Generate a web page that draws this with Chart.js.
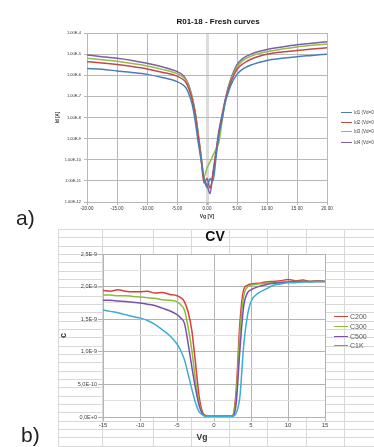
<!DOCTYPE html>
<html>
<head>
<meta charset="utf-8">
<script src="https://cdn.jsdelivr.net/npm/chart.js@4.4.1/dist/chart.umd.min.js"></script>
<style>
body { margin:0; width:374px; height:447px; overflow:hidden; position:relative; background:#fff; font-family:'Liberation Sans', Arial, sans-serif; }
#hoja { position:absolute; left:58px; top:229px; width:316px; height:218px;
  background-image: repeating-linear-gradient(to bottom, #d8d8d8 0px, #d8d8d8 1px, transparent 1px, transparent 8.33px); }
.vlinea { position:absolute; top:0; width:1px; height:218px; background:#d8d8d8; }
.caja { position:absolute; left:0; }
.letra { position:absolute; font-size:21px; color:#222; line-height:1; }
.titulo { position:absolute; font-weight:bold; color:#111; white-space:nowrap; transform:translate(-50%,-50%); }
.item { position:absolute; white-space:nowrap; line-height:1; }
.item span.raya { display:inline-block; vertical-align:middle; }
</style>
</head>
<body>
<div id="hoja"></div>
<div class="caja" style="top:0"><canvas id="graficoA" width="374" height="225"></canvas></div>
<div class="caja" style="top:225px"><canvas id="graficoB" width="374" height="222"></canvas></div>
<div class="letra" style="left:16px; top:207px">a)</div>
<div class="letra" style="left:21px; top:424px">b)</div>
<div class="titulo" style="left:218px; top:21px; font-size:8px">R01-18 - Fresh curves</div>
<div class="titulo" style="left:215px; top:236px; font-size:14px">CV</div>
<div class="titulo" style="left:202px; top:437px; font-size:8.5px; color:#333">Vg</div>
<div id="leyendaA"></div>
<div id="leyendaB"></div>

<script>
// ---- Gráfico a) Id vs Vg (escala logarítmica) ----
const vgA = [-20, -17.5, -15, -12.5, -10, -7.5, -5, -4, -3.5, -3, -2.5, -2, -1.5, -1, -0.5, 0, 0.5, 1, 1.5, 2, 2.5, 3, 3.5, 4, 5, 6, 7.5, 10, 12.5, 15, 17.5, 20];
const id1 = [2.1e-6, 1.9e-6, 1.6e-6, 1.35e-6, 1.1e-6, 7.9e-7, 5.0e-7, 3.5e-7, 2.5e-7, 1.26e-7, 4.5e-8, 7.9e-9, 7.9e-10, 1.0e-10, 1.26e-11, 5.0e-12, 1.26e-11, 1.0e-11, 1.26e-10, 1.6e-9, 7.9e-9, 4.5e-8, 1.4e-7, 3.5e-7, 1.1e-6, 2.0e-6, 3.2e-6, 5.0e-6, 6.3e-6, 7.6e-6, 8.7e-6, 1.0e-5];
const id2 = [4.4e-6, 3.8e-6, 3.2e-6, 2.6e-6, 2.0e-6, 1.4e-6, 9.1e-7, 6.3e-7, 4.5e-7, 2.2e-7, 7.9e-8, 1.6e-8, 1.6e-9, 1.3e-10, 7.9e-12, 1.3e-11, 4.5e-12, 2.0e-11, 2.0e-10, 2.0e-9, 1.0e-8, 5.6e-8, 1.8e-7, 5.0e-7, 1.9e-6, 3.5e-6, 6.0e-6, 9.8e-6, 1.26e-5, 1.5e-5, 1.74e-5, 2.0e-5];
const id3 = [6.3e-6, 5.4e-6, 4.6e-6, 3.6e-6, 2.75e-6, 1.9e-6, 1.2e-6, 8.3e-7, 5.6e-7, 2.8e-7, 1.0e-7, 2.0e-8, 2.0e-9, 1.6e-10, 1.6e-11, 4.0e-11, 7.9e-11, 1.6e-10, 3.2e-10, 7.1e-10, 6.3e-9, 5.0e-8, 2.0e-7, 6.0e-7, 2.5e-6, 5.0e-6, 8.3e-6, 1.3e-5, 1.74e-5, 2.2e-5, 2.6e-5, 3.0e-5];
const id4 = [9.1e-6, 7.6e-6, 6.3e-6, 5.0e-6, 3.7e-6, 2.5e-6, 1.5e-6, 1.0e-6, 6.3e-7, 3.2e-7, 1.0e-7, 2.0e-8, 2.0e-9, 1.6e-10, 1.3e-11, 6.3e-12, 2.5e-12, 2.5e-11, 2.5e-10, 2.5e-9, 1.3e-8, 6.3e-8, 2.5e-7, 7.1e-7, 3.2e-6, 6.3e-6, 1.05e-5, 1.66e-5, 2.2e-5, 2.8e-5, 3.3e-5, 3.9e-5];
const nombresA = ['Id1 (Vd=0.1V)', 'Id2 (Vd=0.2V)', 'Id3 (Vd=0.3V)', 'Id4 (Vd=0.4V)'];
const coloresA = ['#4A7EBB', '#BE4B48', '#98B954', '#7D60A0'];
const decadasA = [1e-12, 1e-11, 1e-10, 1e-9, 1e-8, 1e-7, 1e-6, 1e-5, 1e-4];

// ---- Gráfico b) CV (valores en nF) ----
const vgB = [-15, -14, -13, -12, -11, -10, -9, -8, -7, -6, -5, -4.5, -4, -3.5, -3, -2.5, -2, -1.5, -1, 0, 1, 2, 2.5, 3, 3.5, 4, 4.5, 5, 6, 7, 8, 9, 10, 11, 12, 13, 14, 15];
const c200 = [1.94, 1.93, 1.95, 1.93, 1.92, 1.92, 1.93, 1.90, 1.91, 1.88, 1.86, 1.83, 1.77, 1.61, 1.33, 0.83, 0.31, 0.06, 0.02, 0.01, 0.01, 0.01, 0.02, 0.41, 1.44, 1.95, 2.02, 2.04, 2.05, 2.07, 2.08, 2.09, 2.11, 2.09, 2.10, 2.08, 2.09, 2.08];
const c300 = [1.87, 1.87, 1.86, 1.86, 1.85, 1.84, 1.83, 1.82, 1.80, 1.79, 1.77, 1.72, 1.64, 1.38, 1.03, 0.57, 0.21, 0.04, 0.01, 0.01, 0.01, 0.01, 0.02, 0.31, 1.29, 1.85, 1.99, 2.02, 2.04, 2.05, 2.06, 2.07, 2.07, 2.08, 2.08, 2.08, 2.08, 2.08];
const c500 = [1.79, 1.79, 1.78, 1.77, 1.76, 1.75, 1.73, 1.71, 1.67, 1.63, 1.57, 1.52, 1.44, 1.13, 0.77, 0.44, 0.17, 0.04, 0.01, 0.01, 0.01, 0.01, 0.01, 0.21, 1.03, 1.69, 1.90, 1.95, 2.00, 2.03, 2.05, 2.06, 2.07, 2.07, 2.08, 2.08, 2.08, 2.08];
const c1k = [1.64, 1.62, 1.60, 1.57, 1.54, 1.52, 1.48, 1.42, 1.34, 1.25, 1.12, 1.02, 0.88, 0.66, 0.43, 0.22, 0.08, 0.03, 0.01, 0.01, 0.01, 0.01, 0.01, 0.06, 0.31, 1.08, 1.54, 1.77, 1.90, 1.96, 2.02, 2.04, 2.06, 2.06, 2.07, 2.07, 2.08, 2.08];
const nombresB = ['C200', 'C300', 'C500', 'C1K'];
const coloresB = ['#D6413B', '#8CBB3C', '#7C4FAA', '#3AADD6'];

// líneas verticales de la hoja de cálculo de fondo
const columnasHoja = [0, 44, 95, 133, 171, 209, 248, 286];
columnasHoja.forEach(function (x) {
    const d = document.createElement('div');
    d.className = 'vlinea';
    d.style.left = x + 'px';
    document.getElementById('hoja').appendChild(d);
});

// leyendas
function crearLeyenda(idCont, nombres, colores, izq, tops, largo, tamLetra, colorTexto) {
    const cont = document.getElementById(idCont);
    nombres.forEach(function (nombre, i) {
        const it = document.createElement('div');
        it.className = 'item';
        it.style.left = izq + 'px';
        it.style.top = (tops[i] - tamLetra / 2) + 'px';
        it.style.fontSize = tamLetra + 'px';
        it.style.color = colorTexto;
        it.innerHTML = '<span class="raya" style="width:' + largo + 'px;height:1.5px;background:' + colores[i] + ';margin-right:2px"></span>' + nombre;
        cont.appendChild(it);
    });
}
crearLeyenda('leyendaA', nombresA, coloresA, 341, [113, 123, 132, 143], 11, 4.5, '#444');
crearLeyenda('leyendaB', nombresB, coloresB, 334, [316, 326, 336, 345], 14, 7, '#555');

function puntos(xs, ys) {
    return xs.map(function (x, i) { return { x: x, y: ys[i] }; });
}

// fondo blanco solo en el área del gráfico
const fondoBlanco = {
    id: 'fondoBlanco',
    beforeDraw: function (chart) {
        const a = chart.chartArea;
        const ctx = chart.ctx;
        ctx.save();
        ctx.fillStyle = '#fff';
        ctx.fillRect(a.left, a.top, a.right - a.left, a.bottom - a.top);
        ctx.restore();
    }
};

const seriesA = [id1, id2, id3, id4];
new Chart(document.getElementById('graficoA').getContext('2d'), {
    type: 'line',
    data: {
        datasets: seriesA.map(function (s, i) {
            return {
                label: nombresA[i],
                data: puntos(vgA, s),
                borderColor: coloresA[i],
                borderWidth: 1.5,
                pointRadius: 0,
                cubicInterpolationMode: 'monotone'
            };
        })
    },
    options: {
        responsive: false,
        animation: false,
        layout: { padding: { left: 52, top: 33, right: 47, bottom: 3 } },
        plugins: { legend: { display: false }, tooltip: { enabled: false } },
        scales: {
            x: {
                type: 'linear', min: -20, max: 20,
                ticks: { stepSize: 5, autoSkip: false, maxRotation: 0, padding: 1, color: '#333', font: { size: 4.5 },
                    callback: function (v) { return Number(v).toFixed(2); } },
                grid: {
                    color: function (c) { return c.tick && c.tick.value === 0 ? '#dcdcdc' : '#b8b8b8'; },
                    lineWidth: function (c) { return c.tick && c.tick.value === 0 ? 3 : 1; },
                    tickColor: '#b8b8b8', tickLength: 3
                },
                border: { color: '#b8b8b8' },
                title: { display: true, text: 'Vg [V]', color: '#333', font: { size: 5, weight: 'bold' }, padding: { top: 0, bottom: 2 } },
                afterFit: function (s) { s.height = 20; s.paddingLeft = 0; s.paddingRight = 0; }
            },
            y: {
                type: 'logarithmic', min: 1e-12, max: 1e-4,
                afterBuildTicks: function (s) { s.ticks = decadasA.map(function (v) { return { value: v }; }); },
                ticks: { autoSkip: false, padding: 3, color: '#333', font: { size: 4 },
                    callback: function (v) { return Number(v).toExponential(2).toUpperCase(); } },
                grid: { color: '#b8b8b8', tickColor: '#b8b8b8', tickLength: 3 },
                border: { color: '#b8b8b8' },
                title: { display: true, text: 'Id [A]', color: '#333', font: { size: 4.5, weight: 'bold' }, padding: 3 },
                afterFit: function (s) { s.width = 35; s.paddingTop = 0; s.paddingBottom = 0; }
            }
        }
    }
});

function esMayor(v) {
    return Math.abs(v * 2 - Math.round(v * 2)) < 1e-6;
}

const seriesB = [c200, c300, c500, c1k];
new Chart(document.getElementById('graficoB').getContext('2d'), {
    type: 'line',
    data: {
        datasets: seriesB.map(function (s, i) {
            return {
                label: nombresB[i],
                data: puntos(vgB, s),
                borderColor: coloresB[i],
                borderWidth: 1.5,
                pointRadius: 0,
                cubicInterpolationMode: 'monotone'
            };
        }).reverse()
    },
    plugins: [fondoBlanco],
    options: {
        responsive: false,
        animation: false,
        layout: { padding: { left: 57, top: 29, right: 49, bottom: 0 } },
        plugins: { legend: { display: false }, tooltip: { enabled: false } },
        scales: {
            x: {
                type: 'linear', min: -15, max: 15,
                ticks: { stepSize: 5, autoSkip: false, maxRotation: 0, padding: 1, color: '#444', font: { size: 6 } },
                grid: { color: '#b3b3b3', tickColor: '#b3b3b3', tickLength: 4 },
                border: { color: '#b3b3b3' },
                afterFit: function (s) { s.height = 30; s.paddingLeft = 0; s.paddingRight = 0; }
            },
            y: {
                min: 0, max: 2.5,
                ticks: { stepSize: 0.25, autoSkip: false, padding: 1, color: '#444', font: { size: 5.5 },
                    callback: function (v) { return esMayor(v) ? (v * 1e-9).toExponential(1).replace('.', ',').toUpperCase() : ''; } },
                grid: {
                    color: function (c) { return c.tick && esMayor(c.tick.value) ? '#b3b3b3' : '#e0e0e0'; },
                    tickColor: function (c) { return c.tick && esMayor(c.tick.value) ? '#b3b3b3' : 'rgba(0,0,0,0)'; },
                    tickLength: 5
                },
                border: { color: '#b3b3b3' },
                title: { display: true, text: 'c', color: '#333', font: { size: 9, weight: 'bold' }, padding: 1 },
                afterFit: function (s) { s.width = 46; s.paddingTop = 0; s.paddingBottom = 0; }
            }
        }
    }
});
</script>
</body>
</html>
